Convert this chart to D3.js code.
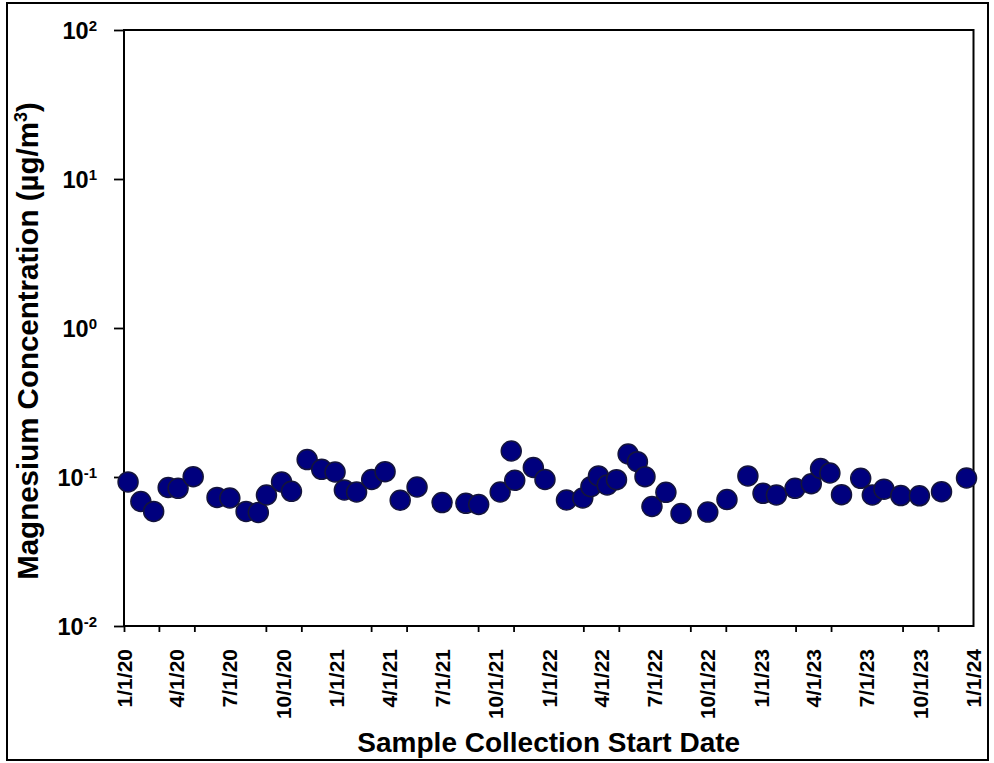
<!DOCTYPE html>
<html><head><meta charset="utf-8">
<script src="https://cdn.jsdelivr.net/npm/d3@7"></script>
<style>
body{margin:0;background:#fff}
text{font-family:"Liberation Sans",Arial,Helvetica,sans-serif;font-weight:bold;fill:#000}
</style>
</head><body>
<svg id="chart" width="994" height="763"></svg>
<script>
// ---- data ----
const sampleDates = ["2020-01-08","2020-01-30","2020-02-21","2020-03-17","2020-04-03","2020-04-29","2020-06-09","2020-07-01","2020-07-29","2020-08-19","2020-09-02","2020-09-28","2020-10-15","2020-11-11","2020-12-06","2020-12-29","2021-01-14","2021-02-04","2021-03-02","2021-03-25","2021-04-20","2021-05-19","2021-07-01","2021-08-11","2021-09-02","2021-10-09","2021-10-28","2021-11-03","2021-12-05","2021-12-25","2022-01-31","2022-02-28","2022-03-14","2022-03-27","2022-04-11","2022-04-27","2022-05-17","2022-06-02","2022-06-15","2022-06-27","2022-07-21","2022-08-16","2022-10-01","2022-11-03","2022-12-09","2023-01-04","2023-01-27","2023-02-28","2023-03-28","2023-04-13","2023-04-29","2023-05-19","2023-06-21","2023-07-11","2023-07-31","2023-08-29","2023-09-30","2023-11-07","2023-12-20"];
const magnesium = [0.0926,0.0685,0.0587,0.0850,0.0840,0.1005,0.0729,0.0723,0.0587,0.0578,0.0757,0.0926,0.0802,0.131,0.1126,0.108,0.0818,0.0793,0.0962,0.1085,0.0698,0.0857,0.0674,0.0666,0.0654,0.0793,0.1494,0.0950,0.1158,0.0962,0.0701,0.0723,0.0861,0.1016,0.0884,0.0959,0.1427,0.1267,0.1005,0.0634,0.0789,0.0569,0.0582,0.0706,0.1016,0.0777,0.0757,0.0840,0.0901,0.1140,0.1064,0.0761,0.098,0.0757,0.0829,0.0751,0.0748,0.0797,0.0985];

const xDomain = ["2020-01-01","2024-01-01"];
const xLabelDates = ["2020-01-01","2020-04-01","2020-07-01","2020-10-01","2021-01-01","2021-04-01","2021-07-01","2021-10-01","2022-01-01","2022-04-01","2022-07-01","2022-10-01","2023-01-01","2023-04-01","2023-07-01","2023-10-01","2024-01-01"];
const xLabelText = ["1/1/20","4/1/20","7/1/20","10/1/20","1/1/21","4/1/21","7/1/21","10/1/21","1/1/22","4/1/22","7/1/22","10/1/22","1/1/23","4/1/23","7/1/23","10/1/23","1/1/24"];
const xTickDates = ["2020-01-01","2020-03-01","2020-05-01","2020-09-01","2020-11-01","2021-03-01","2021-05-01","2021-09-01","2021-11-01","2022-03-01","2022-05-01","2022-09-01","2022-11-01","2023-03-01","2023-05-01","2023-09-01","2023-11-01"];
const yTickValues = [0.01,0.1,1,10,100];
const yTickExponents = ["-2","-1","0","1","2"];
const xTitle = "Sample Collection Start Date";
const yTitle = "Magnesium Concentration (µg/m";

// ---- drawing ----
const parse = d3.utcParse("%Y-%m-%d");
const svg = d3.select("#chart");
const L = 124, R = 973.5, T = 30, B = 626;

const x = d3.scaleUtc().domain(xDomain.map(parse)).range([L, R]);
const y = d3.scaleLog().domain([0.01, 100]).range([B, T]);

// outer border
svg.append("rect").attr("x", 7).attr("y", 3).attr("width", 981).attr("height", 757)
  .attr("fill", "none").attr("stroke", "#000").attr("stroke-width", 2);

// x ticks
const gx = svg.append("g").attr("transform", `translate(0,${B})`)
  .call(d3.axisBottom(x).tickValues(xTickDates.map(parse)).tickSize(6).tickFormat(""));
gx.select(".domain").remove();
gx.selectAll("line").attr("stroke", "#000").attr("stroke-width", 1.8);

// y ticks
const gy = svg.append("g").attr("transform", `translate(${L},0)`)
  .call(d3.axisLeft(y).tickValues(yTickValues).tickSize(10).tickFormat(""));
gy.select(".domain").remove();
gy.selectAll("line").attr("stroke", "#000").attr("stroke-width", 1.8);

// frame
svg.append("rect").attr("x", L).attr("y", T).attr("width", R - L).attr("height", B - T)
  .attr("fill", "none").attr("stroke", "#000").attr("stroke-width", 2);

// x labels
svg.append("g").selectAll("text").data(xLabelDates).join("text")
  .attr("transform", d => `translate(${x(parse(d))},649) rotate(-90)`)
  .attr("text-anchor", "end").attr("dy", "0.36em").attr("font-size", 21)
  .text((d, i) => xLabelText[i]);

// y labels
const yl = svg.append("g").selectAll("text").data(yTickValues).join("text")
  .attr("x", 97).attr("y", d => y(d) + 8.5).attr("text-anchor", "end").attr("font-size", 23.5);
yl.append("tspan").text("10");
yl.append("tspan").attr("font-size", 15).attr("dy", -8).text((d, i) => yTickExponents[i]);

// titles
svg.append("text").attr("x", (L + R) / 2).attr("y", 752).attr("text-anchor", "middle")
  .attr("font-size", 28).text(xTitle);
const yt = svg.append("text").attr("transform", "translate(38,341) rotate(-90)")
  .attr("text-anchor", "middle").attr("font-size", 29.5);
yt.append("tspan").text(yTitle);
yt.append("tspan").attr("font-size", 18).attr("dy", -11).text("3");
yt.append("tspan").attr("dy", 11).text(")");

// points
svg.append("g").selectAll("circle").data(sampleDates).join("circle")
  .attr("cx", d => x(parse(d))).attr("cy", (d, i) => y(magnesium[i])).attr("r", 10)
  .attr("fill", "#00007e").attr("stroke", "#14143c").attr("stroke-width", 1.5);
</script>
</body></html>
